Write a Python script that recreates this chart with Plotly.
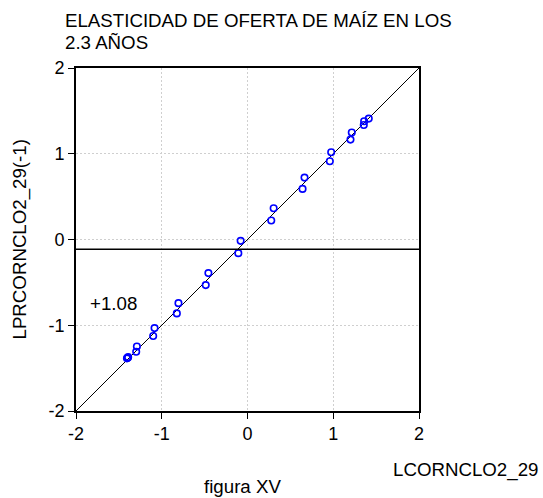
import plotly.graph_objects as go

x_vals = [-1.406, -1.398, -1.392, -1.290, -1.298, -1.084, -1.100, -0.805, -0.824,
          -0.456, -0.487, -0.080, -0.107, 0.305, 0.277, 0.665, 0.642, 0.976, 0.960,
          1.216, 1.201, 1.360, 1.356, 1.414]
y_vals = [-1.386, -1.380, -1.372, -1.247, -1.309, -1.033, -1.126, -0.742, -0.862,
          -0.392, -0.532, -0.016, -0.159, 0.365, 0.221, 0.722, 0.590, 1.017, 0.913,
          1.247, 1.165, 1.379, 1.336, 1.410]
diag = [-2, 2]
hline_y = -0.115
tick_vals = [-2, -1, 0, 1, 2]
tick_text = ["-2", "-1", "0", "1", "2"]

FONT = "Arial, Liberation Sans, sans-serif"
FS = 18.7
TFS = 18

fig = go.Figure()
fig.add_trace(go.Scatter(x=diag, y=diag, mode="lines",
                         line=dict(color="black", width=1), hoverinfo="skip"))
fig.add_trace(go.Scatter(x=x_vals, y=y_vals, mode="markers",
                         marker=dict(symbol="circle-open", size=6.5, color="blue",
                                     line=dict(width=1.6, color="blue"))))
fig.add_shape(type="line", xref="paper", x0=0, x1=1, yref="y", y0=hline_y, y1=hline_y,
              line=dict(color="black", width=1.5))

axis_common = dict(range=[-2, 2], tickvals=tick_vals, ticktext=tick_text,
                   showgrid=True, gridcolor="#cfcfcf", griddash="2px,2px", gridwidth=1,
                   zeroline=False, showline=True, linecolor="black", linewidth=1.6,
                   mirror=True, ticks="outside", ticklen=6, tickcolor="black",
                   tickfont=dict(size=TFS, color="black", family=FONT))

fig.update_xaxes(**axis_common)
fig.update_yaxes(**axis_common, ticklabelstandoff=0)

fig.update_layout(
    width=543, height=498,
    margin=dict(l=76, r=124, t=68, b=87),
    plot_bgcolor="white", paper_bgcolor="white",
    showlegend=False,
    font=dict(family=FONT, size=FS, color="black"),
    annotations=[
        dict(text="ELASTICIDAD DE OFERTA DE MAÍZ EN LOS", xref="paper", yref="paper",
             x=0, y=1, xshift=-13, yshift=48, xanchor="left", yanchor="middle",
             showarrow=False, font=dict(size=FS)),
        dict(text="2.3 AÑOS", xref="paper", yref="paper",
             x=0, y=1, xshift=-13, yshift=26, xanchor="left", yanchor="middle",
             showarrow=False, font=dict(size=FS)),
        dict(text="+1.08", xref="x", yref="y", x=-1.86, y=-0.75, xanchor="left",
             yanchor="middle", showarrow=False, font=dict(size=FS)),
        dict(text="LPRCORNCLO2_29(-1)", xref="paper", yref="paper", x=0, y=0.5,
             xshift=-57, xanchor="center", yanchor="middle", textangle=-90,
             showarrow=False, font=dict(size=FS)),
        dict(text="LCORNCLO2_29", xref="paper", yref="paper", x=1, y=0,
             xshift=121, yshift=-59, xanchor="right", yanchor="middle",
             showarrow=False, font=dict(size=FS)),
        dict(text="figura XV", xref="paper", yref="paper", x=0.485, y=0,
             yshift=-75, xanchor="center", yanchor="middle",
             showarrow=False, font=dict(size=FS)),
    ],
)

fig.write_html("out.html")
